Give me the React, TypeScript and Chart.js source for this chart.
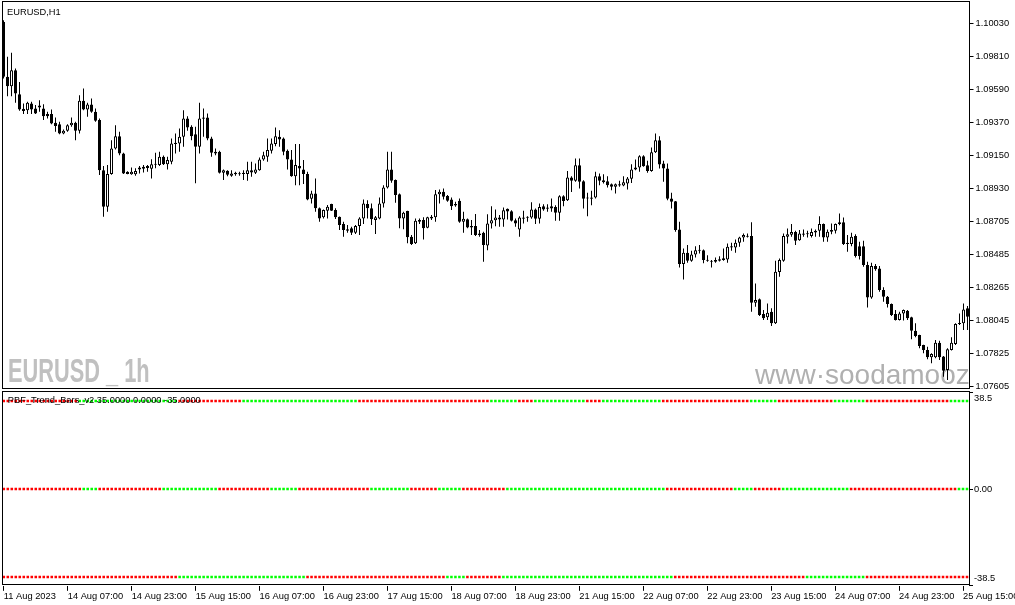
import { useEffect, useRef } from "react";
import { Chart, registerables } from "chart.js";

Chart.register(...registerables);

const FONT = "'Liberation Sans', Arial, sans-serif";
const FS = 9.3;

const CHART_TITLE = "EURUSD,H1";
const INDICATOR_TITLE = "PBF_Trend_Bars_v2 35.0000 0.0000 -35.0000";
const SYMBOL_WATERMARK = "EURUSD _ 1h";
const SITE_WATERMARK = "www·soodamooz.com";

const OPEN = [
  1.10039, 1.09673, 1.09610, 1.09717, 1.09557, 1.09459, 1.09450, 1.09495, 1.09461, 1.09468,
  1.09461, 1.09424, 1.09424, 1.09366, 1.09357, 1.09295, 1.09313, 1.09350, 1.09366, 1.09313,
  1.09513, 1.09455, 1.09488, 1.09439, 1.09384, 1.09050, 1.08806, 1.09024, 1.09195, 1.09277,
  1.09162, 1.09039, 1.09022, 1.09022, 1.09068, 1.09060, 1.09077, 1.09060, 1.09086, 1.09084,
  1.09139, 1.09090, 1.09106, 1.09224, 1.09228, 1.09273, 1.09395, 1.09339, 1.09290, 1.09206,
  1.09401, 1.09401, 1.09262, 1.09173, 1.09173, 1.09033, 1.09046, 1.09013, 1.09033, 1.09022,
  1.09033, 1.09024, 1.09050, 1.09033, 1.09050, 1.09121, 1.09139, 1.09179, 1.09224, 1.09273,
  1.09261, 1.09179, 1.09121, 1.09010, 1.09077, 1.09055, 1.09024, 1.08859, 1.08895, 1.08795,
  1.08735, 1.08779, 1.08824, 1.08784, 1.08739, 1.08690, 1.08655, 1.08662, 1.08633, 1.08677,
  1.08728, 1.08824, 1.08795, 1.08717, 1.08728, 1.08828, 1.08935, 1.09055, 1.08984, 1.08890,
  1.08728, 1.08777, 1.08606, 1.08562, 1.08717, 1.08717, 1.08666, 1.08739, 1.08735, 1.08890,
  1.08906, 1.08877, 1.08855, 1.08824, 1.08846, 1.08706, 1.08722, 1.08677, 1.08677, 1.08628,
  1.08633, 1.08548, 1.08694, 1.08716, 1.08721, 1.08721, 1.08792, 1.08776, 1.08716, 1.08654,
  1.08725, 1.08732, 1.08734, 1.08787, 1.08725, 1.08810, 1.08801, 1.08810, 1.08805, 1.08765,
  1.08876, 1.08850, 1.09001, 1.08979, 1.09083, 1.08976, 1.08867, 1.08859, 1.08867, 1.09010,
  1.08983, 1.08976, 1.08956, 1.08939, 1.08956, 1.08947, 1.08961, 1.08992, 1.09054, 1.09067,
  1.09143, 1.09083, 1.09045, 1.09170, 1.09250, 1.09094, 1.09061, 1.08861, 1.08843, 1.08654,
  1.08423, 1.08499, 1.08445, 1.08488, 1.08512, 1.08516, 1.08450, 1.08443, 1.08439, 1.08445,
  1.08463, 1.08454, 1.08543, 1.08534, 1.08566, 1.08601, 1.08610, 1.08610, 1.08166, 1.08188,
  1.08090, 1.08068, 1.08106, 1.08028, 1.08370, 1.08446, 1.08606, 1.08619, 1.08637, 1.08583,
  1.08628, 1.08628, 1.08610, 1.08634, 1.08646, 1.08690, 1.08601, 1.08650, 1.08646, 1.08690,
  1.08703, 1.08566, 1.08557, 1.08610, 1.08543, 1.08543, 1.08417, 1.08201, 1.08410, 1.08394,
  1.08250, 1.08206, 1.08157, 1.08090, 1.08050, 1.08094, 1.08112, 1.08068, 1.07979, 1.07950,
  1.07883, 1.07850, 1.07801, 1.07801, 1.07899, 1.07806, 1.07717, 1.07850, 1.07890, 1.08023,
  1.08028, 1.08128,
];

const HIGH = [
  1.10050, 1.09806, 1.09833, 1.09728, 1.09639, 1.09495, 1.09506, 1.09506, 1.09484, 1.09517,
  1.09490, 1.09439, 1.09455, 1.09401, 1.09373, 1.09322, 1.09357, 1.09401, 1.09373, 1.09550,
  1.09595, 1.09499, 1.09528, 1.09461, 1.09395, 1.09077, 1.09084, 1.09250, 1.09350, 1.09306,
  1.09166, 1.09042, 1.09068, 1.09062, 1.09077, 1.09084, 1.09084, 1.09122, 1.09166, 1.09173,
  1.09148, 1.09139, 1.09262, 1.09295, 1.09328, 1.09450, 1.09410, 1.09350, 1.09339, 1.09499,
  1.09461, 1.09428, 1.09273, 1.09195, 1.09179, 1.09055, 1.09050, 1.09050, 1.09039, 1.09039,
  1.09050, 1.09106, 1.09106, 1.09095, 1.09135, 1.09173, 1.09261, 1.09261, 1.09335, 1.09317,
  1.09268, 1.09188, 1.09184, 1.09224, 1.09224, 1.09117, 1.09039, 1.08913, 1.08995, 1.08801,
  1.08788, 1.08817, 1.08826, 1.08795, 1.08741, 1.08706, 1.08684, 1.08673, 1.08684, 1.08735,
  1.08855, 1.08850, 1.08828, 1.08744, 1.08868, 1.08950, 1.09173, 1.09173, 1.08988, 1.08895,
  1.08773, 1.08779, 1.08617, 1.08728, 1.08728, 1.08735, 1.08739, 1.08750, 1.08917, 1.08921,
  1.08928, 1.08884, 1.08868, 1.08839, 1.08861, 1.08773, 1.08728, 1.08717, 1.08757, 1.08650,
  1.08639, 1.08756, 1.08810, 1.08787, 1.08750, 1.08801, 1.08794, 1.08783, 1.08727, 1.08743,
  1.08779, 1.08743, 1.08836, 1.08794, 1.08827, 1.08823, 1.08823, 1.08861, 1.08816, 1.08883,
  1.08883, 1.09045, 1.09010, 1.09127, 1.09127, 1.08983, 1.08899, 1.08912, 1.09039, 1.09027,
  1.09023, 1.09010, 1.08961, 1.08961, 1.08979, 1.09010, 1.09005, 1.09090, 1.09121, 1.09150,
  1.09150, 1.09112, 1.09201, 1.09294, 1.09276, 1.09112, 1.09094, 1.08899, 1.08845, 1.08705,
  1.08528, 1.08550, 1.08512, 1.08543, 1.08550, 1.08521, 1.08483, 1.08450, 1.08468, 1.08476,
  1.08528, 1.08561, 1.08566, 1.08588, 1.08606, 1.08628, 1.08628, 1.08703, 1.08294, 1.08194,
  1.08117, 1.08161, 1.08128, 1.08446, 1.08461, 1.08628, 1.08661, 1.08690, 1.08646, 1.08650,
  1.08654, 1.08646, 1.08661, 1.08654, 1.08743, 1.08694, 1.08654, 1.08694, 1.08694, 1.08761,
  1.08734, 1.08617, 1.08632, 1.08623, 1.08572, 1.08579, 1.08439, 1.08432, 1.08423, 1.08410,
  1.08268, 1.08210, 1.08161, 1.08117, 1.08106, 1.08121, 1.08117, 1.08072, 1.08028, 1.07952,
  1.07885, 1.07872, 1.07828, 1.07917, 1.07912, 1.07810, 1.07861, 1.07935, 1.08028, 1.08094,
  1.08161, 1.08143,
];

const LOW = [
  1.09661, 1.09544, 1.09544, 1.09499, 1.09446, 1.09424, 1.09424, 1.09424, 1.09424, 1.09439,
  1.09384, 1.09395, 1.09357, 1.09306, 1.09290, 1.09290, 1.09306, 1.09339, 1.09250, 1.09295,
  1.09450, 1.09406, 1.09433, 1.09373, 1.09017, 1.08739, 1.08773, 1.09020, 1.09188, 1.09150,
  1.09024, 1.09022, 1.09020, 1.09013, 1.09028, 1.09035, 1.09039, 1.08995, 1.09062, 1.09077,
  1.09084, 1.09055, 1.09090, 1.09162, 1.09173, 1.09206, 1.09313, 1.09250, 1.08962, 1.09162,
  1.09273, 1.09250, 1.09139, 1.09150, 1.09028, 1.08984, 1.09010, 1.09006, 1.09013, 1.09013,
  1.08984, 1.08979, 1.09006, 1.09024, 1.09046, 1.09113, 1.09106, 1.09161, 1.09210, 1.09206,
  1.09150, 1.09055, 1.09006, 1.08950, 1.08950, 1.08957, 1.08850, 1.08828, 1.08773, 1.08706,
  1.08728, 1.08728, 1.08777, 1.08724, 1.08650, 1.08606, 1.08633, 1.08617, 1.08624, 1.08617,
  1.08690, 1.08728, 1.08684, 1.08624, 1.08722, 1.08801, 1.08928, 1.08966, 1.08833, 1.08662,
  1.08655, 1.08562, 1.08550, 1.08557, 1.08690, 1.08588, 1.08662, 1.08717, 1.08706, 1.08828,
  1.08855, 1.08839, 1.08784, 1.08806, 1.08699, 1.08633, 1.08662, 1.08617, 1.08610, 1.08606,
  1.08439, 1.08516, 1.08661, 1.08676, 1.08672, 1.08672, 1.08721, 1.08707, 1.08672, 1.08605,
  1.08694, 1.08705, 1.08725, 1.08690, 1.08694, 1.08779, 1.08772, 1.08772, 1.08712, 1.08712,
  1.08810, 1.08845, 1.08905, 1.08972, 1.08927, 1.08794, 1.08743, 1.08816, 1.08861, 1.08950,
  1.08961, 1.08934, 1.08916, 1.08894, 1.08939, 1.08943, 1.08921, 1.08965, 1.09050, 1.09039,
  1.09072, 1.09032, 1.09039, 1.09165, 1.09061, 1.08972, 1.08850, 1.08794, 1.08639, 1.08401,
  1.08321, 1.08432, 1.08439, 1.08468, 1.08494, 1.08428, 1.08439, 1.08401, 1.08432, 1.08440,
  1.08445, 1.08432, 1.08512, 1.08499, 1.08539, 1.08572, 1.08601, 1.08106, 1.08139, 1.08077,
  1.08050, 1.08050, 1.08010, 1.08023, 1.08339, 1.08439, 1.08561, 1.08606, 1.08550, 1.08579,
  1.08606, 1.08601, 1.08601, 1.08606, 1.08606, 1.08572, 1.08572, 1.08623, 1.08628, 1.08683,
  1.08550, 1.08506, 1.08543, 1.08468, 1.08454, 1.08406, 1.08134, 1.08192, 1.08379, 1.08239,
  1.08172, 1.08134, 1.08077, 1.08046, 1.08046, 1.08046, 1.08050, 1.07921, 1.07935, 1.07861,
  1.07828, 1.07788, 1.07761, 1.07795, 1.07783, 1.07672, 1.07650, 1.07846, 1.07883, 1.08017,
  1.07983, 1.07983,
];

const CLOSE = [
  1.09673, 1.09610, 1.09717, 1.09561, 1.09455, 1.09444, 1.09499, 1.09455, 1.09428, 1.09481,
  1.09410, 1.09410, 1.09361, 1.09344, 1.09295, 1.09313, 1.09350, 1.09366, 1.09313, 1.09513,
  1.09455, 1.09488, 1.09439, 1.09379, 1.09050, 1.08806, 1.09024, 1.09195, 1.09277, 1.09162,
  1.09028, 1.09024, 1.09039, 1.09044, 1.09055, 1.09073, 1.09064, 1.09090, 1.09090, 1.09139,
  1.09090, 1.09117, 1.09228, 1.09233, 1.09273, 1.09395, 1.09335, 1.09277, 1.09206, 1.09395,
  1.09393, 1.09262, 1.09166, 1.09162, 1.09033, 1.09050, 1.09020, 1.09028, 1.09022, 1.09028,
  1.09024, 1.09050, 1.09035, 1.09055, 1.09121, 1.09150, 1.09184, 1.09228, 1.09277, 1.09255,
  1.09173, 1.09121, 1.09010, 1.09084, 1.09061, 1.09024, 1.08855, 1.08895, 1.08795, 1.08728,
  1.08784, 1.08806, 1.08779, 1.08735, 1.08684, 1.08650, 1.08646, 1.08633, 1.08677, 1.08728,
  1.08828, 1.08795, 1.08722, 1.08735, 1.08828, 1.08935, 1.09055, 1.08979, 1.08884, 1.08728,
  1.08766, 1.08602, 1.08557, 1.08713, 1.08706, 1.08662, 1.08735, 1.08728, 1.08890, 1.08906,
  1.08873, 1.08846, 1.08810, 1.08815, 1.08706, 1.08726, 1.08668, 1.08668, 1.08617, 1.08617,
  1.08550, 1.08694, 1.08716, 1.08734, 1.08734, 1.08783, 1.08774, 1.08712, 1.08694, 1.08734,
  1.08734, 1.08739, 1.08787, 1.08725, 1.08805, 1.08787, 1.08792, 1.08794, 1.08765, 1.08876,
  1.08845, 1.09001, 1.08979, 1.09083, 1.08972, 1.08859, 1.08861, 1.08867, 1.09010, 1.08979,
  1.08970, 1.08950, 1.08939, 1.08956, 1.08947, 1.08970, 1.08994, 1.09054, 1.09067, 1.09143,
  1.09076, 1.09045, 1.09170, 1.09250, 1.09087, 1.09061, 1.08859, 1.08839, 1.08650, 1.08423,
  1.08499, 1.08445, 1.08488, 1.08516, 1.08516, 1.08450, 1.08445, 1.08439, 1.08450, 1.08456,
  1.08450, 1.08539, 1.08534, 1.08566, 1.08601, 1.08617, 1.08606, 1.08166, 1.08183, 1.08083,
  1.08061, 1.08099, 1.08028, 1.08372, 1.08450, 1.08610, 1.08623, 1.08637, 1.08579, 1.08628,
  1.08619, 1.08623, 1.08637, 1.08646, 1.08690, 1.08601, 1.08639, 1.08639, 1.08690, 1.08703,
  1.08557, 1.08557, 1.08606, 1.08477, 1.08477, 1.08417, 1.08201, 1.08410, 1.08388, 1.08250,
  1.08206, 1.08157, 1.08083, 1.08050, 1.08094, 1.08117, 1.08061, 1.07979, 1.07943, 1.07877,
  1.07850, 1.07801, 1.07823, 1.07899, 1.07801, 1.07712, 1.07855, 1.07899, 1.08023, 1.08028,
  1.08121, 1.08072,
];

const PRICE_TICKS = [
  1.1003, 1.0981, 1.0959, 1.0937, 1.0915, 1.0893, 1.08705, 1.08485, 1.08265, 1.08045, 1.07825, 1.07605,
];
const PRICE_MIN = 1.0759636;
const PRICE_MAX = 1.1017213;

const DATE_TICKS = [
  "11 Aug 2023", "14 Aug 07:00", "14 Aug 23:00", "15 Aug 15:00", "16 Aug 07:00", "16 Aug 23:00",
  "17 Aug 15:00", "18 Aug 07:00", "18 Aug 23:00", "21 Aug 15:00", "22 Aug 07:00", "22 Aug 23:00",
  "23 Aug 15:00", "24 Aug 07:00", "24 Aug 23:00", "25 Aug 15:00",
];
const TICK_EVERY = 16;

// indicator: three levels, each bar coloured by trend state (run-length)
const LEVELS = [35, 0, -35];
const IND_TICK_VALUES = [38.5, 0, -38.5];
const IND_TICK_LABELS = ["38.5", "0.00", "-38.5"];
const TOP_RUNS: [string, number][] = [
  ["R", 19], ["G", 25], ["R", 16], ["G", 29], ["R", 33], ["G", 7], ["R", 4], ["G", 13],
  ["R", 4], ["G", 15], ["R", 22], ["G", 7], ["R", 14], ["G", 8], ["R", 21], ["G", 5],
];
const MID_RUNS: [string, number][] = [
  ["R", 20], ["G", 4], ["R", 16], ["G", 14], ["R", 13], ["G", 7], ["R", 18], ["G", 10], ["R", 7],
  ["G", 6], ["R", 11], ["G", 40], ["R", 17], ["G", 5], ["R", 7], ["G", 17], ["R", 27], ["G", 3],
];
const BOT_RUNS: [string, number][] = [
  ["R", 44], ["G", 32], ["R", 35], ["G", 5], ["R", 9], ["G", 43], ["R", 33], ["G", 15], ["R", 26],
];
const UP_COLOR = "#00ff00";
const DOWN_COLOR = "#ff0000";

const MAIN_AXIS_W = 45.5;
const IND_AXIS_W = 46;

const expandRuns = (runs: [string, number][]) =>
  runs.flatMap(([c, n]) => Array(n).fill(c === "G" ? UP_COLOR : DOWN_COLOR));

const mainDecor = {
  id: "mainDecor",
  beforeDatasetsDraw(chart: any) {
    const { ctx, chartArea: a } = chart;
    ctx.save();
    ctx.beginPath();
    ctx.rect(a.left, a.top, a.right - a.left, a.bottom - a.top);
    ctx.clip();
    ctx.textAlign = "left";
    ctx.textBaseline = "alphabetic";
    ctx.fillStyle = "#c0c0c0";
    ctx.font = `bold 33px ${FONT}`;
    ctx.save();
    ctx.translate(a.left + 6.5, a.bottom - 6);
    ctx.scale(0.66, 1);
    ctx.fillText(SYMBOL_WATERMARK, 0, 0);
    ctx.restore();
    ctx.fillStyle = "#b0b0b0";
    ctx.font = `28px ${FONT}`;
    ctx.fillText(SITE_WATERMARK, 755, a.bottom - 4);
    ctx.restore();
  },
  afterDraw(chart: any) {
    const { ctx, chartArea: a } = chart;
    const l = Math.floor(a.left) + 1.5;
    const r = Math.floor(a.right) + 0.5;
    const t = Math.floor(a.top) - 0.5;
    const b = Math.floor(a.bottom) + 0.5;
    ctx.save();
    ctx.strokeStyle = "#000";
    ctx.lineWidth = 1;
    ctx.strokeRect(l, t, r - l, b - t);
    ctx.fillStyle = "#000";
    ctx.font = `${FS}px ${FONT}`;
    ctx.textAlign = "left";
    ctx.textBaseline = "alphabetic";
    ctx.fillText(CHART_TITLE, a.left + 5.5, a.top + 13);
    ctx.restore();
  },
};

const indDecor = {
  id: "indDecor",
  afterDatasetsDraw(chart: any) {
    const { ctx, chartArea: a } = chart;
    ctx.save();
    ctx.fillStyle = "#000";
    ctx.font = `${FS}px ${FONT}`;
    ctx.textAlign = "left";
    ctx.textBaseline = "alphabetic";
    ctx.fillText(INDICATOR_TITLE, a.left + 6, a.top + 11.1);
    ctx.restore();
  },
  afterDraw(chart: any) {
    const { ctx, chartArea: a, scales } = chart;
    const y = scales.y;
    const l = Math.floor(a.left) + 1.5;
    const r = Math.floor(a.right) + 0.5;
    const t = Math.floor(a.top) - 0.5;
    const b = Math.floor(a.bottom) - 0.5;
    ctx.save();
    ctx.strokeStyle = "#000";
    ctx.lineWidth = 1;
    ctx.strokeRect(l, t, r - l, b - t);
    ctx.fillStyle = "#000";
    ctx.font = `${FS}px ${FONT}`;
    ctx.textAlign = "left";
    ctx.textBaseline = "middle";
    IND_TICK_VALUES.forEach((v, k) => {
      let py = y.getPixelForValue(v);
      if (k === 0) py += 6.1;
      if (k === IND_TICK_VALUES.length - 1) py -= 7.3;
      ctx.fillText(IND_TICK_LABELS[k], a.right + 5, py);
    });
    ctx.restore();
  },
};

export default function App() {
  const mainRef = useRef<HTMLCanvasElement>(null);
  const indRef = useRef<HTMLCanvasElement>(null);

  useEffect(() => {
    Chart.defaults.font.family = FONT;
    Chart.defaults.font.size = FS;
    Chart.defaults.color = "#000";
    const labels = OPEN.map((_, i) => i);

    const main = new Chart(mainRef.current as HTMLCanvasElement, {
      type: "bar",
      data: {
        labels,
        datasets: [
          {
            label: "body",
            data: OPEN.map((o, i) => [o, CLOSE[i]]) as any,
            backgroundColor: OPEN.map((o, i) => (CLOSE[i] >= o ? "#ffffff" : "#000000")),
            borderColor: "#000000",
            borderWidth: 1,
            borderSkipped: false,
            barThickness: 3,
            minBarLength: 1,
            grouped: false,
            inflateAmount: 0,
            order: 0,
          } as any,
          {
            label: "wick",
            data: LOW.map((l, i) => [l, HIGH[i]]) as any,
            backgroundColor: "#000000",
            borderWidth: 0,
            barThickness: 1,
            grouped: false,
            inflateAmount: 0,
            order: 1,
          } as any,
        ],
      },
      options: {
        animation: false,
        responsive: false,
        maintainAspectRatio: false,
        devicePixelRatio: 1,
        events: [],
        layout: { padding: { left: 1.5, top: 2, right: 0, bottom: 2 } },
        plugins: { legend: { display: false }, tooltip: { enabled: false } },
        scales: {
          x: { type: "category", display: false, offset: true },
          y: {
            position: "right",
            min: PRICE_MIN,
            max: PRICE_MAX,
            afterBuildTicks: (s: any) => {
              s.ticks = PRICE_TICKS.map((v) => ({ value: v }));
            },
            afterFit: (s: any) => {
              s.width = MAIN_AXIS_W;
              s.paddingTop = 0;
              s.paddingBottom = 0;
            },
            grid: { drawOnChartArea: false, drawTicks: true, tickLength: 4, color: "#000" },
            border: { display: false },
            ticks: {
              color: "#000",
              font: { size: FS, family: FONT },
              padding: 2,
              callback: (v: any) => Number(v).toFixed(5),
            },
          } as any,
        },
      },
      plugins: [mainDecor],
    });

    const rowColors = [expandRuns(TOP_RUNS), expandRuns(MID_RUNS), expandRuns(BOT_RUNS)];

    const ind = new Chart(indRef.current as HTMLCanvasElement, {
      type: "line",
      data: {
        labels,
        datasets: LEVELS.map((lv, k) => ({
          label: "level" + k,
          data: OPEN.map(() => lv),
          showLine: false,
          pointStyle: "rect",
          pointRadius: 1.8,
          pointHoverRadius: 1.8,
          pointBorderWidth: 0,
          pointBackgroundColor: rowColors[k],
        })) as any,
      },
      options: {
        animation: false,
        responsive: false,
        maintainAspectRatio: false,
        devicePixelRatio: 1,
        events: [],
        layout: { padding: { left: 1, top: 2.2, right: 0, bottom: 0 } },
        plugins: { legend: { display: false }, tooltip: { enabled: false } },
        scales: {
          x: {
            type: "category",
            offset: true,
            afterFit: (s: any) => {
              s.height = 19.2;
              s.paddingLeft = 0;
              s.paddingRight = 0;
            },
            grid: {
              display: true,
              drawOnChartArea: false,
              drawTicks: true,
              tickLength: 5,
              color: "#000",
              offset: false,
            },
            border: { display: false },
            ticks: {
              autoSkip: false,
              maxRotation: 0,
              minRotation: 0,
              align: "start",
              padding: 0,
              color: "#000",
              font: { size: FS, family: FONT },
              callback: (_v: any, i: number) =>
                i % TICK_EVERY === 0 ? DATE_TICKS[i / TICK_EVERY] : null,
            },
          } as any,
          y: {
            position: "right",
            min: -38.5,
            max: 38.5,
            afterBuildTicks: (s: any) => {
              s.ticks = IND_TICK_VALUES.map((v) => ({ value: v }));
            },
            afterFit: (s: any) => {
              s.width = IND_AXIS_W;
              s.paddingTop = 0;
              s.paddingBottom = 0;
            },
            grid: { drawOnChartArea: false, drawTicks: true, tickLength: 4, color: "#000" },
            border: { display: false },
            ticks: { display: false },
          } as any,
        },
      },
      plugins: [indDecor],
    });

    return () => {
      main.destroy();
      ind.destroy();
    };
  }, []);

  return (
    <div
      style={{
        position: "absolute",
        left: 0,
        top: 0,
        width: 1015,
        height: 605,
        background: "#ffffff",
        overflow: "hidden",
      }}
    >
      <canvas
        ref={mainRef}
        width={1015}
        height={390}
        style={{ position: "absolute", left: 0, top: 0, width: 1015, height: 390 }}
      />
      <canvas
        ref={indRef}
        width={1015}
        height={215}
        style={{ position: "absolute", left: 0, top: 390, width: 1015, height: 215 }}
      />
    </div>
  );
}
